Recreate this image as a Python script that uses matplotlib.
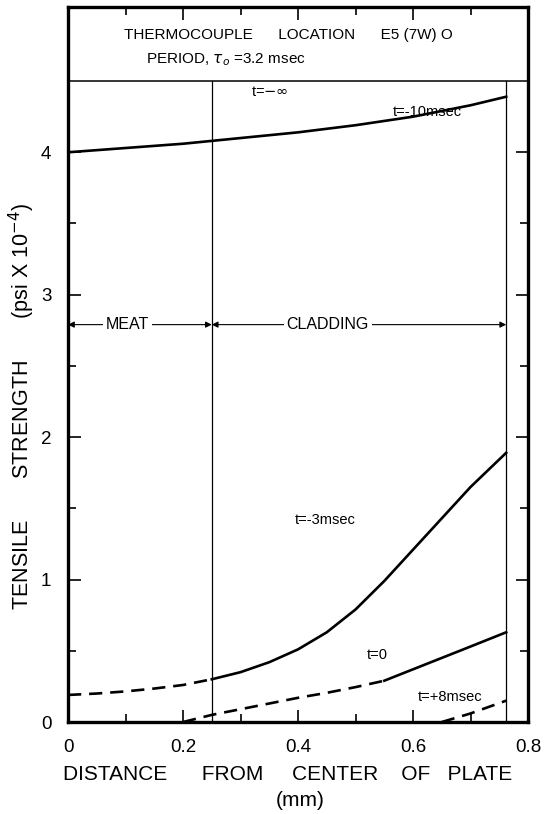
#%% Tensile strength across the fuel plate
import numpy as np
import matplotlib.pyplot as plt

plt.rcParams['font.family'] = ['Liberation Sans', 'DejaVu Sans']
plt.rcParams['mathtext.fontset'] = 'dejavusans'

#%% Data
# distance from centre of plate [mm], strength [psi x 1e-4]
x_m10 = [0.0, 0.1, 0.2, 0.25, 0.3, 0.4, 0.5, 0.6, 0.7, 0.762]
s_m10 = [4.00, 4.03, 4.06, 4.08, 4.10, 4.14, 4.19, 4.25, 4.33, 4.39]

x_m3_meat = [0.0, 0.05, 0.1, 0.15, 0.2, 0.25]
s_m3_meat = [0.19, 0.20, 0.215, 0.235, 0.26, 0.30]
x_m3_clad = [0.25, 0.3, 0.35, 0.4, 0.45, 0.5, 0.55, 0.6, 0.65, 0.7, 0.762]
s_m3_clad = [0.30, 0.35, 0.42, 0.51, 0.63, 0.79, 0.99, 1.21, 1.43, 1.65, 1.89]

x_0_dash = [0.2, 0.25, 0.3, 0.35, 0.4, 0.45, 0.5, 0.55]
s_0_dash = [0.0, 0.05, 0.09, 0.13, 0.17, 0.205, 0.245, 0.29]
x_0_solid = [0.55, 0.6, 0.65, 0.7, 0.762]
s_0_solid = [0.29, 0.37, 0.45, 0.53, 0.63]

x_p8 = [0.65, 0.7, 0.762]
s_p8 = [0.0, 0.06, 0.15]

x_meat = 0.25      # meat / cladding boundary
x_surf = 0.762     # plate surface
s_inf = 4.5        # t = -inf level
s_zone = 2.79      # height of the MEAT / CLADDING arrows

x_ticks = [0, 0.2, 0.4, 0.6, 0.8]
x_ticklabels = ['0', '0.2', '0.4', '0.6', '0.8']
y_ticks = [0, 1, 2, 3, 4]

#%% Figure
fig = plt.figure(figsize=(5.49, 8.14), dpi=100)
ax = fig.add_axes([0.1239, 0.113, 0.8379, 0.8784])
ax.set_xlim(0, 0.8)
ax.set_ylim(0, 5.02)

lw = 1.9
dash = (0, (5, 3))
ax.plot(x_m10, s_m10, color='black', lw=lw)
ax.plot(x_m3_meat, s_m3_meat, color='black', lw=lw, linestyle=dash)
ax.plot(x_m3_clad, s_m3_clad, color='black', lw=lw)
ax.plot(x_0_dash, s_0_dash, color='black', lw=lw, linestyle=dash)
ax.plot(x_0_solid, s_0_solid, color='black', lw=lw)
ax.plot(x_p8, s_p8, color='black', lw=lw, linestyle=dash)

# boundaries and the header line
ax.plot([x_meat, x_meat], [0, s_inf], color='black', lw=0.9)
ax.plot([x_surf, x_surf], [0, s_inf], color='black', lw=0.9)
ax.axhline(s_inf, color='black', lw=1.1)

# zone arrows
arr = dict(arrowstyle='<|-|>', color='black', lw=0.8, mutation_scale=9,
           shrinkA=0, shrinkB=0)
ax.annotate('', xy=(0, s_zone), xytext=(x_meat, s_zone), arrowprops=arr)
ax.annotate('', xy=(x_meat, s_zone), xytext=(x_surf, s_zone), arrowprops=arr)
box = dict(facecolor='white', edgecolor='none', pad=2)
ax.text(0.104, s_zone, 'MEAT', ha='center', va='center', fontsize=11.5, bbox=box)
ax.text(0.452, s_zone, 'CLADDING', ha='center', va='center', fontsize=11.5, bbox=box)

# curve labels
ax.text(0.35, 4.42, r't=$-$$\infty$', ha='center', va='center', fontsize=10.5)
ax.text(0.565, 4.28, 't=-10msec', ha='left', va='center', fontsize=10.5)
ax.text(0.447, 1.42, 't=-3msec', ha='center', va='center', fontsize=10.5)
ax.text(0.537, 0.47, 't=0', ha='center', va='center', fontsize=10.5)
ax.text(0.664, 0.175, 't=+8msec', ha='center', va='center', fontsize=10.5)

# header
ax.text(0.097, 4.82, 'THERMOCOUPLE      LOCATION      E5 (7W) O',
        ha='left', va='center', fontsize=11)
ax.text(0.136, 4.65, r'PERIOD, $\tau_o$ =3.2 msec', ha='left', va='center',
        fontsize=11)

# frame and ticks
for s in ax.spines.values():
    s.set_linewidth(2.4)
ax.set_xticks(x_ticks)
ax.set_xticklabels(x_ticklabels)
ax.set_xticks(np.arange(0.1, 0.8, 0.2), minor=True)
ax.set_yticks(y_ticks)
ax.set_yticks([0.5, 1.5, 2.5, 3.5], minor=True)
ax.tick_params(which='both', direction='in', top=True, right=True,
               width=1.2, labelsize=13.5)
ax.tick_params(which='major', length=9)
ax.tick_params(which='minor', length=6)
ax.tick_params(axis='x', which='both', pad=12)
ax.tick_params(axis='y', which='both', pad=12)

fig.text(0.1148, 0.048, 'DISTANCE      FROM     CENTER    OF   PLATE',
         ha='left', va='center', fontsize=15)
fig.text(0.546, 0.017, '(mm)', ha='center', va='center', fontsize=15)
fig.text(0.040, 0.2506, r'TENSILE       STRENGTH       (psi X 10$^{-4}$)',
         rotation=90, ha='center', va='bottom', fontsize=15.5)

fig.savefig('out.png', dpi=100)
